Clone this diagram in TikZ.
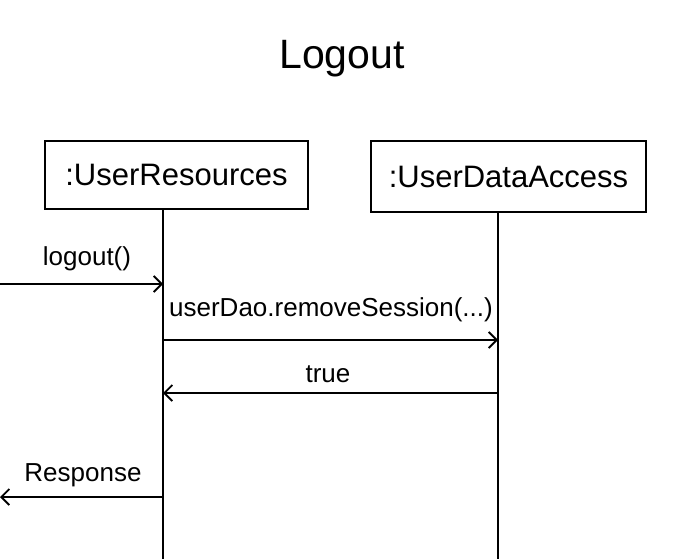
\documentclass[tikz,border=0pt]{standalone}
\usepackage{fontspec}
\setmainfont{Liberation Sans}
\usetikzlibrary{arrows.meta}
\begin{document}
\begin{tikzpicture}[x=1pt,y=-1pt,line width=1.8pt,-{Straight Barb[length=8pt,width=16pt,line width=1.8pt]}]
    \tikzstyle{object}=[draw,rectangle,inner sep=0pt,font=\fontsize{31}{36}\selectfont]
    \tikzstyle{lifeline}=[-]
    \tikzstyle{msg}=[font=\fontsize{26}{31}\selectfont]

    \useasboundingbox (0,0) rectangle (694,559);

    % Draw the title
    \node[font=\fontsize{41}{48}\selectfont] (title) at (342,59) {Logout};

    % Draw the objects
    \node[object, minimum width=263pt, minimum height=68pt] (O-1) at (176.5,175) {:UserResources};
    \node[object, minimum width=275pt, minimum height=71pt] (O-2) at (508.5,176.5) {:UserDataAccess};

    % Lifeline end points
    \coordinate (L-1) at (163,559);
    \coordinate (L-2) at (498,559);
    \draw[lifeline] (O-1.south -| L-1) -- (L-1);
    \draw[lifeline] (O-2.south -| L-2) -- (L-2);

    % Message end points
    \coordinate (E-in) at (0,284);
    \coordinate (E-out) at (0,497);
    \foreach \name / \y in {1/284,2/340,3/393,4/497}
      \coordinate (A-\name) at (163,\y);
    \foreach \name / \y in {2/340,3/393}
      \coordinate (B-\name) at (498,\y);

    % Draw the messages
    \draw (E-in) -- (A-1);
    \node[msg] (m-1) at (87,259) {logout()};
    \draw (A-2) -- (B-2);
    \node[msg] (m-2) at (331,310) {userDao.removeSession(...)};
    \draw (B-3) -- (A-3);
    \node[msg] (m-3) at (328,374) {true};
    \draw (A-4) -- (E-out);
    \node[msg] (m-4) at (83,475) {Response};
\end{tikzpicture}
\end{document}
